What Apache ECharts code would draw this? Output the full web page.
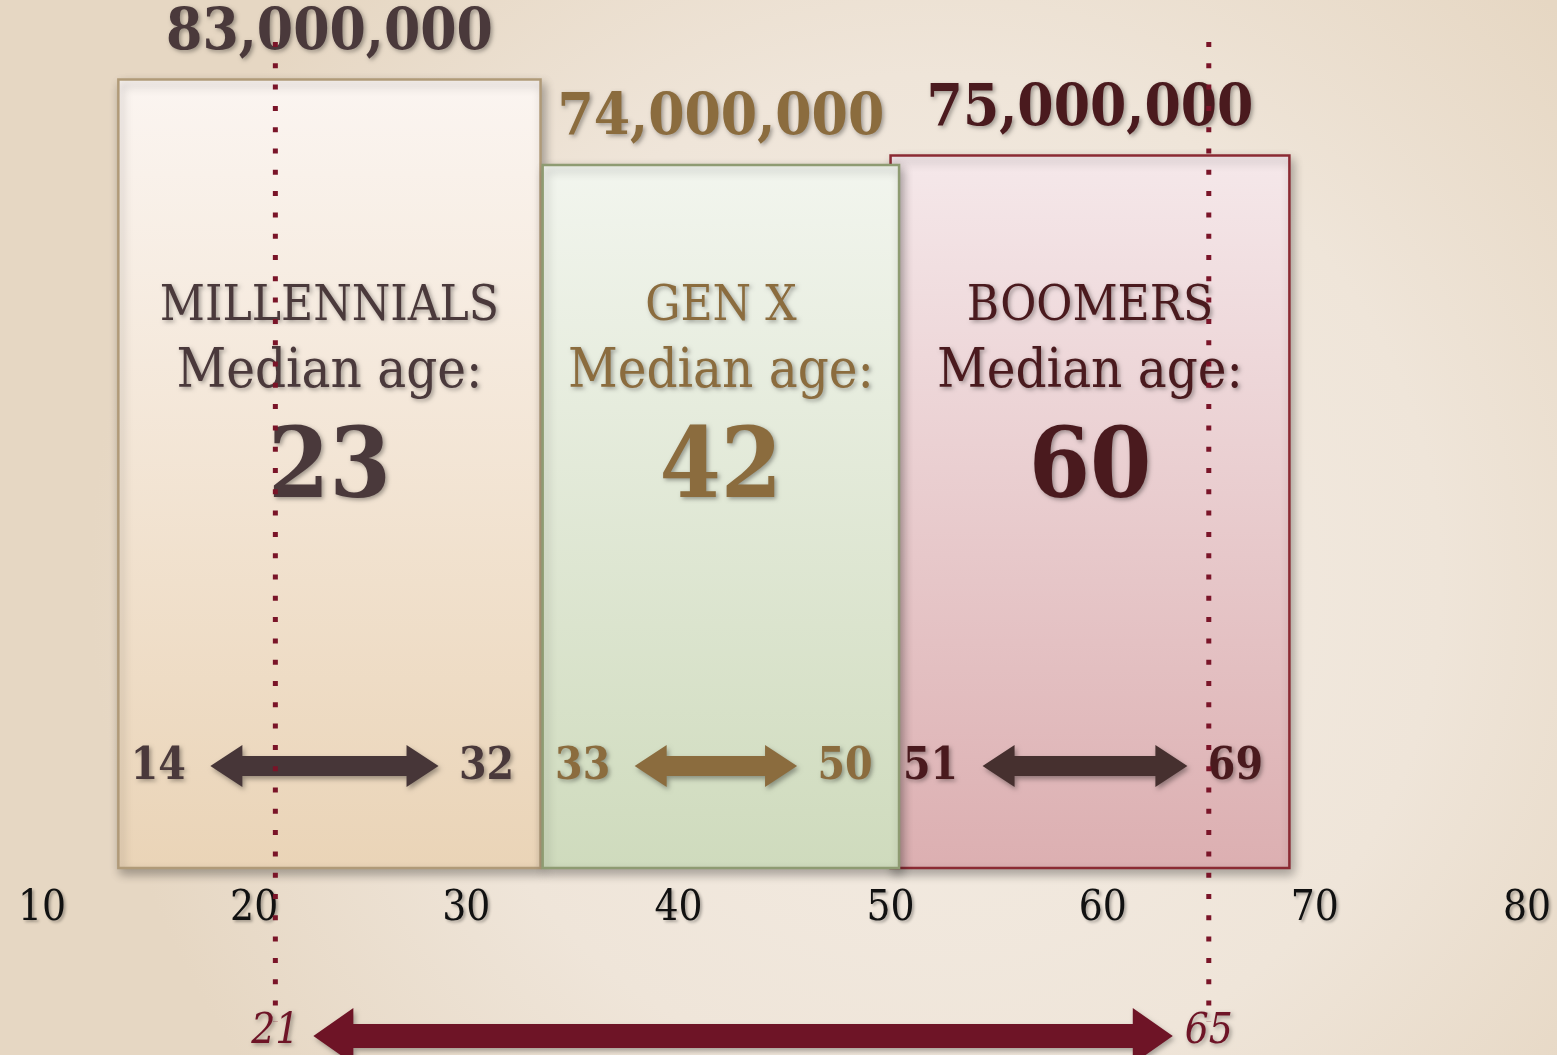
<!DOCTYPE html>
<html>
<head>
<meta charset="utf-8">
<script src="https://cdn.jsdelivr.net/npm/echarts@6/dist/echarts.min.js"></script>
<style>
  html, body { margin: 0; padding: 0; }
  #main { width: 1557px; height: 1055px; }
</style>
</head>
<body>
<div id="main"></div>
<script>
// generations: age span of each box, population, median age, age range
const generations = ['MILLENNIALS', 'GEN X', 'BOOMERS'];
const spanStart = [13.6, 33.6, 50];
const spanEnd = [33.5, 50.4, 68.8];
const population = [83000000, 74000000, 75000000];
const medianAge = [23, 42, 60];
const rangeLow = [14, 33, 51];
const rangeHigh = [32, 50, 69];
// working-age guide lines
const workingAges = [21, 65];
const xTicks = [10, 20, 30, 40, 50, 60, 70, 80];

const SERIF = '"DejaVu Serif Condensed", "DejaVu Serif", serif';
const textColor = ['#4a393b', '#8b6c3e', '#4a1a1e'];
const arrowColor = ['#473638', '#8b6c3e', '#46302f'];
const fillTop = ['#fbf5f1', '#f2f5ee', '#f5e8ea'];
const fillBottom = ['#ead4b7', '#cfdbbd', '#dcafb1'];
const borderColor = ['#b09a78', '#8e9b72', '#8b2a33'];
const guideColor = '#7a1428';

const shadow = {
  textShadowColor: 'rgba(0,0,0,0.35)',
  textShadowBlur: 4,
  textShadowOffsetX: 2,
  textShadowOffsetY: 2
};

function arrowPoints(x1, x2, y, shaft, head, headLen) {
  const s = shaft / 2, h = head / 2;
  return [
    [x1, y], [x1 + headLen, y - h], [x1 + headLen, y - s],
    [x2 - headLen, y - s], [x2 - headLen, y - h], [x2, y],
    [x2 - headLen, y + h], [x2 - headLen, y + s], [x1 + headLen, y + s],
    [x1 + headLen, y + h]
  ];
}

function renderGeneration(params, api) {
  const i = params.dataIndex;
  const p0 = api.coord([api.value(0), api.value(2)]);
  const p1 = api.coord([api.value(1), 0]);
  const left = p0[0], top = p0[1], right = p1[0], base = p1[1];
  const cx = (left + right) / 2;
  const col = textColor[i];
  return {
    type: 'group',
    children: [
      {
        type: 'rect',
        z2: i === 1 ? 3 : 1,
        shape: { x: left, y: top, width: right - left, height: base - top },
        style: {
          fill: new echarts.graphic.LinearGradient(0, 0, 0, 1, [
            { offset: 0, color: fillTop[i] },
            { offset: 1, color: fillBottom[i] }
          ]),
          stroke: borderColor[i],
          lineWidth: 2.5,
          shadowBlur: 10,
          shadowOffsetX: 3,
          shadowOffsetY: 5,
          shadowColor: 'rgba(0,0,0,0.3)'
        }
      },
      {
        type: 'text', z2: 10,
        style: Object.assign({
          x: cx, y: top - 46, text: population[i].toLocaleString('en-US'),
          font: 'bold 58px ' + SERIF, fill: col, align: 'center', verticalAlign: 'middle'
        }, shadow)
      },
      {
        type: 'text', z2: 10,
        style: Object.assign({
          x: cx, y: base - 561, text: generations[i],
          font: '49px ' + SERIF, fill: col, align: 'center', verticalAlign: 'middle'
        }, shadow)
      },
      {
        type: 'text', z2: 10,
        style: Object.assign({
          x: cx, y: base - 495, text: 'Median age:',
          font: '54px ' + SERIF, fill: col, align: 'center', verticalAlign: 'middle'
        }, shadow)
      },
      {
        type: 'text', z2: 10,
        style: Object.assign({
          x: cx, y: base - 396, text: String(medianAge[i]),
          font: 'bold 98px ' + SERIF, fill: col, align: 'center', verticalAlign: 'middle'
        }, shadow)
      },
      {
        type: 'text', z2: 10,
        style: Object.assign({
          x: left + 40, y: base - 100, text: String(rangeLow[i]),
          font: 'bold 44px ' + SERIF, fill: col, align: 'center', verticalAlign: 'middle'
        }, shadow)
      },
      {
        type: 'text', z2: 10,
        style: Object.assign({
          x: right - 54, y: base - 100, text: String(rangeHigh[i]),
          font: 'bold 44px ' + SERIF, fill: col, align: 'center', verticalAlign: 'middle'
        }, shadow)
      },
      {
        type: 'polygon', z2: 10,
        shape: { points: arrowPoints(left + 92, right - 102, base - 102, 20, 42, 32) },
        style: {
          fill: arrowColor[i],
          shadowBlur: 5, shadowOffsetX: 2, shadowOffsetY: 3,
          shadowColor: 'rgba(0,0,0,0.35)'
        }
      }
    ]
  };
}

function renderGuides(params, api) {
  const a = api.coord([api.value(0), 0]);
  const b = api.coord([api.value(1), 0]);
  const y = 1036;
  const lineEl = x => ({
    type: 'line', z2: 20,
    shape: { x1: x, y1: 42, x2: x, y2: 1022 },
    style: { stroke: guideColor, lineWidth: 5, lineDash: [5, 16.3] }
  });
  const labelEl = (x, t) => ({
    type: 'text', z2: 20,
    style: Object.assign({
      x: x, y: y - 4, text: t, font: 'italic 42px ' + SERIF,
      fill: '#6e1426', align: 'center', verticalAlign: 'middle'
    }, shadow)
  });
  return {
    type: 'group',
    children: [
      lineEl(a[0]),
      lineEl(b[0]),
      labelEl(a[0], String(api.value(0))),
      labelEl(b[0], String(api.value(1))),
      {
        type: 'polygon', z2: 20,
        shape: { points: arrowPoints(a[0] + 38, b[0] - 36, y, 24, 56, 40) },
        style: {
          fill: '#6e1426',
          shadowBlur: 5, shadowOffsetX: 2, shadowOffsetY: 3,
          shadowColor: 'rgba(0,0,0,0.3)'
        }
      }
    ]
  };
}

const chart = echarts.init(document.getElementById('main'));
chart.setOption({
  backgroundColor: new echarts.graphic.RadialGradient(0.6, 0.55, 0.8, [
    { offset: 0, color: '#f4ede5' },
    { offset: 0.6, color: '#efe5d9' },
    { offset: 1, color: '#e6d7c3' }
  ]),
  animation: false,
  grid: { left: 42, right: 30, top: 13, bottom: 187 },
  xAxis: {
    type: 'value',
    min: xTicks[0],
    max: xTicks[xTicks.length - 1],
    interval: 10,
    axisLine: { show: false },
    axisTick: { show: false },
    splitLine: { show: false },
    axisLabel: {
      margin: 20,
      fontFamily: SERIF,
      fontSize: 42,
      color: '#111',
      textShadowColor: 'rgba(0,0,0,0.3)',
      textShadowBlur: 3,
      textShadowOffsetX: 2,
      textShadowOffsetY: 2
    }
  },
  yAxis: {
    type: 'value',
    min: 0,
    max: 90000000,
    show: false
  },
  series: [
    {
      type: 'custom',
      name: 'generations',
      renderItem: renderGeneration,
      clip: false,
      data: generations.map((g, i) => [spanStart[i], spanEnd[i], population[i]])
    },
    {
      type: 'custom',
      name: 'working age',
      renderItem: renderGuides,
      clip: false,
      z: 5,
      data: [[workingAges[0], workingAges[1]]]
    }
  ]
});
</script>
</body>
</html>
